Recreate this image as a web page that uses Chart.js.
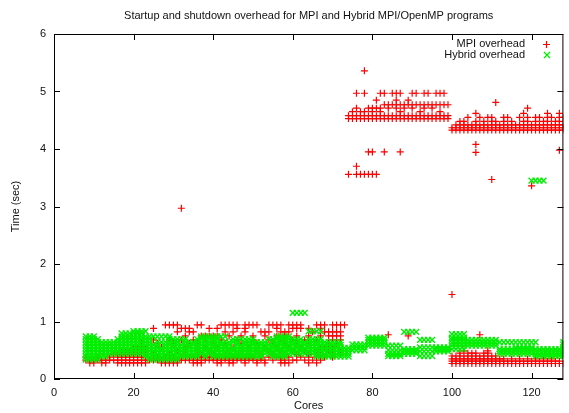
<!DOCTYPE html>
<html>
<head>
<meta charset="utf-8">
<title>Startup and shutdown overhead</title>
<script src="https://cdn.jsdelivr.net/npm/chart.js@4.4.0/dist/chart.umd.min.js"></script>
<style>
  html, body { margin: 0; padding: 0; background: #fff; }
</style>
</head>
<body>
<canvas id="overheadChart" width="569" height="413"></canvas>
<script>
// Measured runs: each row is [time in seconds, core counts that hit that time]
const mpiLowRows = [
  [0.28, [9,10,12,13,16,17,18,19,20,21,22,23,27,28,29,30,31,35,36,37,41,42,44,45,48,51,53,57,58,59,64,66]],
  [0.33, [8,9,10,11,12,13,14,15,16,17,18,19,20,21,22,23,24,25,26,27,28,29,30,31,32,33,34,35,36,37,38,39,40,41,42,43,44,45,46,47,48,49,50,51,52,53,55,57,58,60,61,63,65,67]],
  [0.38, [8,11,14,16,17,18,19,20,21,22,23,26,28,30,32,34,35,36,37,38,39,40,41,42,43,44,45,46,47,48,49,50,52,54,56,57,59,62,64,66,68,70]],
  [0.43, [15,16,17,18,19,20,21,22,23,25,29,33,37,40,43,46,49,52,55,58,61,64,67,70,72]],
  [0.49, [17,18,19,20,21,22,23,31,36,39,44,47,51,54,57,60,63,66,69,72]],
  [0.55, [20,21,22,23,27,33,38,41,45,49,53,56,59,62,67,68,69,70]],
  [0.62, [22,26,30,34,36,40,43,47,51,55,58,61,64,69,71]],
  [0.68, [25,29,32,35,38,42,46,50,54,57,60,63,66,70,72]],
  [0.75, [33,37,38,39,40,41,44,47,50,53,56,58,61,64,67,69,70,71,72,89]],
  [0.77, [84]],
  [0.82, [31,34,35,43,45,48,52,53,54,57,58,59,65,68,69,70,71,72]],
  [0.88, [25,32,33,34,39,41,46,48,56,60,61,62,64,67]],
  [0.94, [28,29,30,31,36,37,42,43,44,45,46,48,49,50,51,54,55,56,57,59,60,61,62,66,67,68,70,71,72,73]],
  [2.97, [32]]
];

const mpiMidRows = [
  [3.56, [74,76,77,78,79,80,81]],
  [3.70, [76]],
  [3.95, [79,80,83,87]],
  [4.53, [74,75,76,77,78,79,80,81,82,83,84,85,86,87,88,89,90,91,92,93,94,95,96,97,98,99]],
  [4.58, [74,75,76,77,78,79,80,81,82,83,84,85,86,87,88,89,90,91,92,93,94,95,96,97,98,99]],
  [4.65, [75,77,78,80,82,87,92,97]],
  [4.71, [76,79,80,81,82,84,86,88,90,93,95]],
  [4.77, [83,84,85,86,87,88,89,90,91,92,93,94,95,96,97,98,99]],
  [4.85, [81,86,89]],
  [4.97, [76,78,82,83,85,86,87,90,91,93,94,96,97,98]],
  [5.36, [78]]
];

const mpiHighRows = [
  [0.27, [100,101,102,103,104,105,106,107,108,109,110,111,112,113,114,115,116,117,118,119,120,121,122,123,124,125,126,127,128]],
  [0.31, [100,101,102,103,104,105,106,107,108,109,110,111,112,113,114,115,116,117,118,119,120,121,122,123,124,125,126,127]],
  [0.35, [100,101,102,103,104,105,106,107,108,109,110,111,112,113,115,117,119,121,123,125]],
  [0.40, [100,101,102,103,104,105,106,107,108,109,110,111]],
  [0.45, [102,104,105,106,108,109]],
  [0.49, [103,109]],
  [0.77, [107]],
  [1.47, [100]],
  [3.36, [120]],
  [3.47, [110]],
  [3.94, [106]],
  [3.98, [127]],
  [4.08, [106]],
  [4.33, [100,101,102,103,104,105,106,107,108,109,110,111,112,113,114,115,116,117,118,119,120,121,122,123,124,125,126,127,128]],
  [4.37, [100,101,102,103,104,105,106,107,108,109,110,111,112,113,114,115,116,117,118,119,120,121,122,123,124,125,126,127,128]],
  [4.42, [101,102,103,104,105,106,107,108,109,110,111,112,113,114,115,116,117,118,119,120,121,122,123,124,125,126,127,128]],
  [4.48, [102,103,106,108,110,111,113,115,118,119,121,123,124,126,127]],
  [4.55, [104,107,109,110,113,114,117,119,121,122,124,125,127,128]],
  [4.62, [106,118,124,127]],
  [4.71, [119]],
  [4.81, [111]]
];

const hybridLowRows = [
  [0.34, [8,9,10,11,24,25,26,27,28,29,30,31]],
  [0.39, [8,9,10,11,12,13,23,24,25,26,27,28,29,30,31,32,33,34,35,36,38,40,41,42,43,44,45,46,47,48,49,50,51,52,55,56,57,58,66,67,68,69,70,71,72,73,74]],
  [0.44, [8,9,10,11,12,13,14,15,16,17,18,19,20,21,22,23,24,25,26,27,28,29,30,31,32,33,34,35,36,37,38,39,40,41,42,43,44,45,46,47,48,49,50,51,52,53,54,55,56,57,58,59,60,61,62,63,64,65,66,67,68,69,70,71,72,73,74]],
  [0.49, [8,9,10,11,12,13,14,15,16,17,18,19,20,21,22,23,24,25,26,27,28,29,30,31,32,33,34,35,36,37,38,39,40,41,42,43,44,45,46,47,48,49,50,51,52,53,54,55,56,57,58,59,60,61,62,63,64,65,66,67,68,69,70,71,72,73,74]],
  [0.54, [8,9,10,11,12,13,14,15,16,17,18,19,20,21,22,23,24,25,26,27,28,29,30,31,32,33,34,35,36,37,38,39,40,41,42,43,44,45,46,47,48,49,50,51,52,53,54,55,56,57,58,59,60,61,62,63,64,65,66,67,68,69,70,71,72,73,74]],
  [0.59, [8,9,10,11,12,13,14,15,16,17,18,19,20,21,22,23,24,25,26,28,29,30,31,32,33,34,35,36,37,38,39,40,41,42,43,44,46,47,48,49,50,51,52,53,54,55,56,57,58,59,60,61,62,63,64,65,66,67,68,69,70,71,72]],
  [0.64, [8,9,10,11,12,13,14,15,16,17,18,19,20,21,22,23,24,26,27,28,29,30,31,33,34,35,36,37,38,39,40,41,42,43,44,45,46,48,49,50,51,52,53,55,56,57,58,59,60,61,62,63,64,65,66,67,68,69,70,71,72]],
  [0.69, [8,9,10,11,16,17,18,19,20,21,22,23,24,29,30,31,32,33,36,37,38,39,40,41,45,46,47,48,49,50,54,55,56,57,58,59,60,61,62,64,65,66,67]],
  [0.74, [8,9,10,17,18,19,20,21,22,23,24,25,26,27,28,29,37,38,39,40,41,42,43,56,57,58,59]],
  [0.79, [17,18,19,20,21,22]],
  [0.83, [20,21,22,23,64,65,66,67]],
  [1.15, [60,61,62,63]]
];

const hybridHighRows = [
  [0.40, [84,85,86,87,92,93,94,95,121,122,123,124,125,126,127,128]],
  [0.44, [84,85,86,87,88,89,90,91,112,113,114,115,116,117,118,119,120,121,122,123,124,125,126,127,128]],
  [0.48, [88,89,90,91,92,93,94,95,96,97,98,99,112,113,114,115,116,117,118,119,120,121,122,123,124,125,126,127,128]],
  [0.50, [75,76,77,78,84,85,86,87]],
  [0.52, [88,89,90,91,96,97,98,99,100,101,102,103,112,113,114,115,116,117,118,119,120,121,122,123,124,125,126,127,128]],
  [0.55, [75,76,77,78,92,93,94,95,96,97,98,99,116,117,118,119,120,128]],
  [0.58, [79,80,81,82,83,84,85,86,87,100,101,102,103,104,105,106,107,108,109,110,111]],
  [0.60, [75,76,77,78,128]],
  [0.63, [79,80,81,82,83,100,101,102,103,104,105,106,107,108,109,110,111]],
  [0.64, [112,113,114,115,116,117,118,119,120,121,128]],
  [0.68, [79,80,81,82,83,92,93,94,95,100,101,102,103,104,105,106,107,108,109,110,111]],
  [0.72, [79,80,81,82,83,100,101,102,103]],
  [0.78, [100,101,102,103]],
  [0.82, [88,89,90,91]],
  [3.45, [120,121,122,123]]
];

const xTickValues = [0, 20, 40, 60, 80, 100, 120];
const yTickValues = [0, 1, 2, 3, 4, 5, 6];

const titleText = "Startup and shutdown overhead for MPI and Hybrid MPI/OpenMP programs";
const mpiLabel = "MPI overhead";
const hybridLabel = "Hybrid overhead";

// Expand [time, cores[]] rows into scatter points
function toPoints(rows) {
  return rows.flatMap(([time, cores]) => cores.map((c) => ({ x: c, y: time })));
}

const fontFamily = "'Liberation Sans', Arial, sans-serif";
const textFont = "11px " + fontFamily;
const textColor = "#111";
const mpiColor = "#ff0000";
const hybridColor = "#00ee00";

function drawPlus(ctx, x, y, r) {
  ctx.beginPath();
  ctx.moveTo(x - r, y); ctx.lineTo(x + r, y);
  ctx.moveTo(x, y - r); ctx.lineTo(x, y + r);
  ctx.stroke();
}

function drawCross(ctx, x, y, r) {
  ctx.beginPath();
  ctx.moveTo(x - r, y - r); ctx.lineTo(x + r, y + r);
  ctx.moveTo(x - r, y + r); ctx.lineTo(x + r, y - r);
  ctx.stroke();
}

// Border, mirrored inward ticks, title and key in gnuplot style
const framePlugin = {
  id: "frame",
  afterDatasetsDraw(chart) {
    const { ctx, chartArea: a, scales } = chart;
    ctx.save();
    ctx.strokeStyle = "#000";
    ctx.lineWidth = 1;
    ctx.strokeRect(a.left + 0.5, a.top + 0.5, a.right - a.left - 1, a.bottom - a.top - 1);

    const tick = 6;
    ctx.beginPath();
    xTickValues.forEach((v) => {
      const px = Math.round(scales.x.getPixelForValue(v)) + 0.5;
      ctx.moveTo(px, a.bottom); ctx.lineTo(px, a.bottom - tick);
      ctx.moveTo(px, a.top); ctx.lineTo(px, a.top + tick);
    });
    yTickValues.forEach((v) => {
      const py = Math.round(scales.y.getPixelForValue(v)) + 0.5;
      ctx.moveTo(a.left, py); ctx.lineTo(a.left + tick, py);
      ctx.moveTo(a.right, py); ctx.lineTo(a.right - tick, py);
    });
    ctx.stroke();

    ctx.fillStyle = textColor;
    ctx.font = textFont;
    ctx.textBaseline = "middle";
    ctx.textAlign = "center";
    ctx.fillText(titleText, (a.left + a.right) / 2, 16);

    // key, top right
    ctx.textAlign = "right";
    ctx.fillText(mpiLabel, 525, 44);
    ctx.fillText(hybridLabel, 525, 55);
    ctx.lineWidth = 1.2;
    ctx.strokeStyle = mpiColor;
    drawPlus(ctx, 546.5, 44.5, 3.5);
    ctx.lineWidth = 1.4;
    ctx.strokeStyle = hybridColor;
    drawCross(ctx, 547, 55, 3);
    ctx.restore();
  }
};

const ctx = document.getElementById("overheadChart").getContext("2d");

new Chart(ctx, {
  type: "scatter",
  data: {
    datasets: [
      {
        label: mpiLabel,
        data: toPoints(mpiLowRows.concat(mpiMidRows, mpiHighRows)),
        pointStyle: "cross",
        pointRadius: 3.5,
        borderColor: mpiColor,
        backgroundColor: mpiColor,
        borderWidth: 1.2,
        order: 1
      },
      {
        label: hybridLabel,
        data: toPoints(hybridLowRows.concat(hybridHighRows)),
        pointStyle: "crossRot",
        pointRadius: 4.2,
        borderColor: hybridColor,
        backgroundColor: hybridColor,
        borderWidth: 1.4,
        order: 0
      }
    ]
  },
  options: {
    responsive: false,
    animation: false,
    events: [],
    layout: { padding: { top: 34, right: 1, bottom: 0, left: 0 } },
    plugins: {
      legend: { display: false },
      tooltip: { enabled: false }
    },
    scales: {
      x: {
        type: "linear",
        min: 0,
        max: 128,
        afterFit: (scale) => { scale.height = 34; },
        afterBuildTicks: (scale) => { scale.ticks = xTickValues.map((v) => ({ value: v })); },
        grid: { display: false, drawTicks: false },
        border: { display: false },
        ticks: {
          color: textColor,
          padding: 7,
          maxRotation: 0,
          font: { family: fontFamily, size: 11 }
        },
        title: {
          display: true,
          text: "Cores",
          color: textColor,
          padding: { top: 0, bottom: 0 },
          font: { family: fontFamily, size: 11 }
        }
      },
      y: {
        type: "linear",
        min: 0,
        max: 6,
        afterFit: (scale) => { scale.width = 54; },
        afterBuildTicks: (scale) => { scale.ticks = yTickValues.map((v) => ({ value: v })); },
        grid: { display: false, drawTicks: false },
        border: { display: false },
        ticks: {
          color: textColor,
          padding: 8,
          font: { family: fontFamily, size: 11 }
        },
        title: {
          display: true,
          text: "Time (sec)",
          color: textColor,
          padding: { top: 9, bottom: 0 },
          font: { family: fontFamily, size: 11 }
        }
      }
    }
  },
  plugins: [framePlugin]
});
</script>
</body>
</html>
